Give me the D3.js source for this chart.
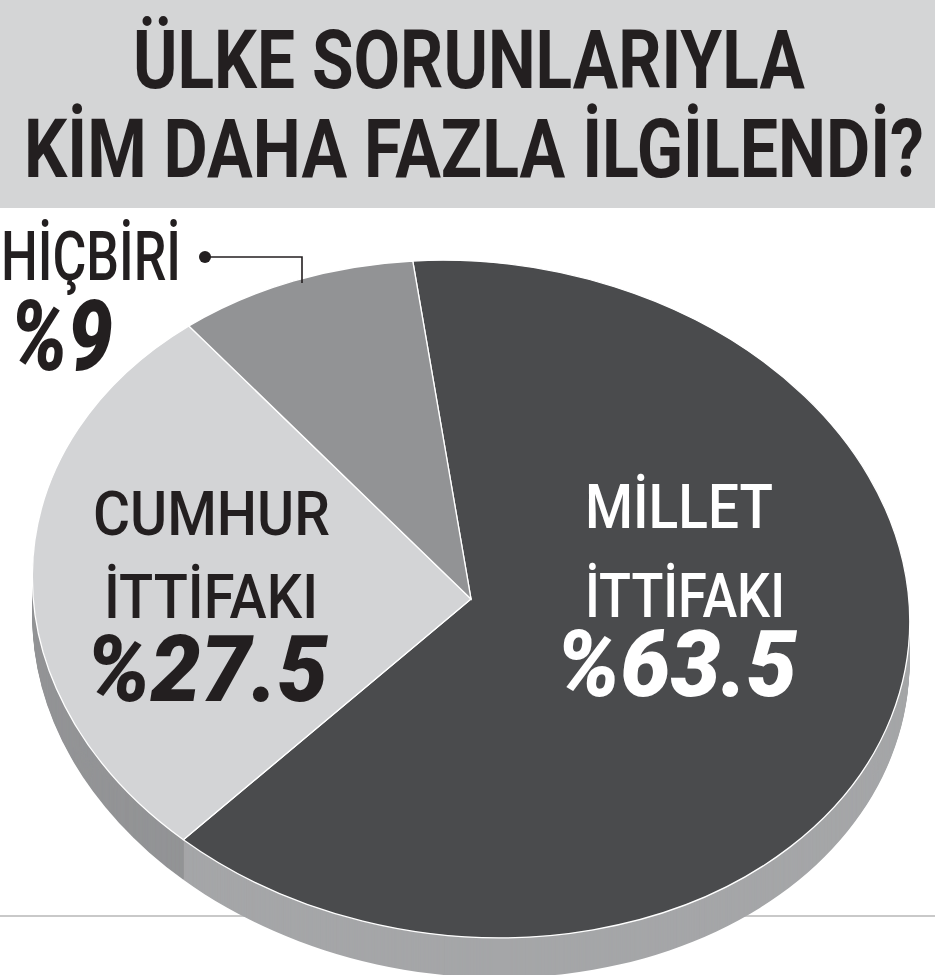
<!DOCTYPE html>
<html>
<head>
<meta charset="utf-8">
<script src="https://cdn.jsdelivr.net/npm/d3@7"></script>
<style>
  html, body { margin: 0; padding: 0; background: #fff; }
  svg { display: block; }
</style>
</head>
<body>
<div id="chart"></div>
<script>
var width = 935;
var height = 975;

// data
var names = ["MİLLET İTTİFAKI", "CUMHUR İTTİFAKI", "HİÇBİRİ"];
var shares = [63.5, 27.5, 9];
var shareLabels = ["%63.5", "%27.5", "%9"];
var titleLines = ["ÜLKE SORUNLARIYLA", "KİM DAHA FAZLA İLGİLENDİ?"];

var topColors = ["#4a4b4d", "#d3d4d6", "#929395"];
var sideColors = ["#a5a6a8", "#939496", "#7e7f81"];
var ink = "#231f20";
var font = "Roboto, 'Open Sans', sans-serif";

// pie geometry (flattened, slightly tilted disc)
var cx = 471, cy = 599;
var rx = 440, ry = 337;
var tilt = 7;
var depth = 40;
var start = -13 * Math.PI / 180;

var svg = d3.select("#chart")
    .append("svg")
    .attr("width", width)
    .attr("height", height);

// squeeze a text horizontally to a given width
function fit(sel, x, y, w) {
    var len = sel.node().getComputedTextLength();
    sel.attr("transform", "translate(" + x + "," + y + ") scale(" + (w / len) + ",1)");
}

// title band
svg.append("rect")
    .attr("x", 0).attr("y", 0)
    .attr("width", width).attr("height", 208)
    .style("fill", "#d4d5d6");

var titleX = [133, 24];
var titleW = [672, 900];
var titleY = [88, 177];
titleLines.forEach(function(t, i) {
    var tx = svg.append("text")
        .attr("class", "title")
        .style("font-family", font)
        .style("font-weight", 700)
        .style("font-size", "82px")
        .style("fill", ink)
        .text(t);
    fit(tx, titleX[i], titleY[i], titleW[i]);
});

// baseline rule behind the pie
svg.append("line")
    .attr("x1", 0).attr("x2", width)
    .attr("y1", 916).attr("y2", 916)
    .style("stroke", "#c9c9c9")
    .style("stroke-width", 2);

var pie = d3.pie()
    .sort(null)
    .value(function(d) { return d; })
    .startAngle(start)
    .endAngle(start + 2 * Math.PI);

var arcs = pie(shares);

var arc = d3.arc()
    .innerRadius(0)
    .outerRadius(rx);

function disc(offset) {
    return svg.append("g")
        .attr("transform", "translate(" + cx + "," + (cy + offset) + ") rotate(" + tilt + ") scale(1," + (ry / rx) + ")");
}

// side of the disc: stacked copies shifted down
for (var k = depth; k >= 1; k--) {
    disc(k).selectAll("path")
        .data(arcs)
        .enter()
        .append("path")
        .attr("d", arc)
        .style("fill", function(d, i) { return sideColors[i]; });
}

// top face
disc(0).selectAll("path")
    .data(arcs)
    .enter()
    .append("path")
    .attr("d", arc)
    .style("fill", function(d, i) { return topColors[i]; })
    .style("stroke", "#fff")
    .style("stroke-width", 1.3)
    .attr("vector-effect", "non-scaling-stroke");

// labels: one text per slice, a tspan per line
function label(lines, xs, ws, ys, sizes, weights, styles, color) {
    var t = svg.append("text")
        .style("font-family", font)
        .style("fill", color);
    lines.forEach(function(s, i) {
        t.append("tspan")
            .attr("x", xs[i])
            .attr("y", ys[i])
            .attr("textLength", ws[i])
            .attr("lengthAdjust", "spacingAndGlyphs")
            .style("font-size", sizes[i] + "px")
            .style("font-weight", weights[i])
            .style("font-style", styles[i])
            .text(s);
    });
}

var millet = names[0].split(" ");
label([millet[0], millet[1], shareLabels[0]],
      [585, 585, 556], [188, 200, 241], [528, 617, 696],
      [62, 62, 92], [500, 500, 900], ["normal", "normal", "italic"], "#fff");

var cumhur = names[1].split(" ");
label([cumhur[0], cumhur[1], shareLabels[1]],
      [93, 104, 86], [237, 214, 242], [535, 618, 701],
      [62, 62, 92], [500, 500, 900], ["normal", "normal", "italic"], ink);

label([names[2], shareLabels[2]],
      [1, 10], [180, 103], [280, 370],
      [68, 98], [500, 900], ["normal", "italic"], ink);

// leader for the small slice
svg.append("polyline")
    .attr("points", "205,257 302,257 302,283")
    .style("fill", "none")
    .style("stroke", ink)
    .style("stroke-width", 1.6);
svg.append("circle")
    .attr("cx", 205).attr("cy", 257).attr("r", 6)
    .style("fill", ink);
</script>
</body>
</html>
